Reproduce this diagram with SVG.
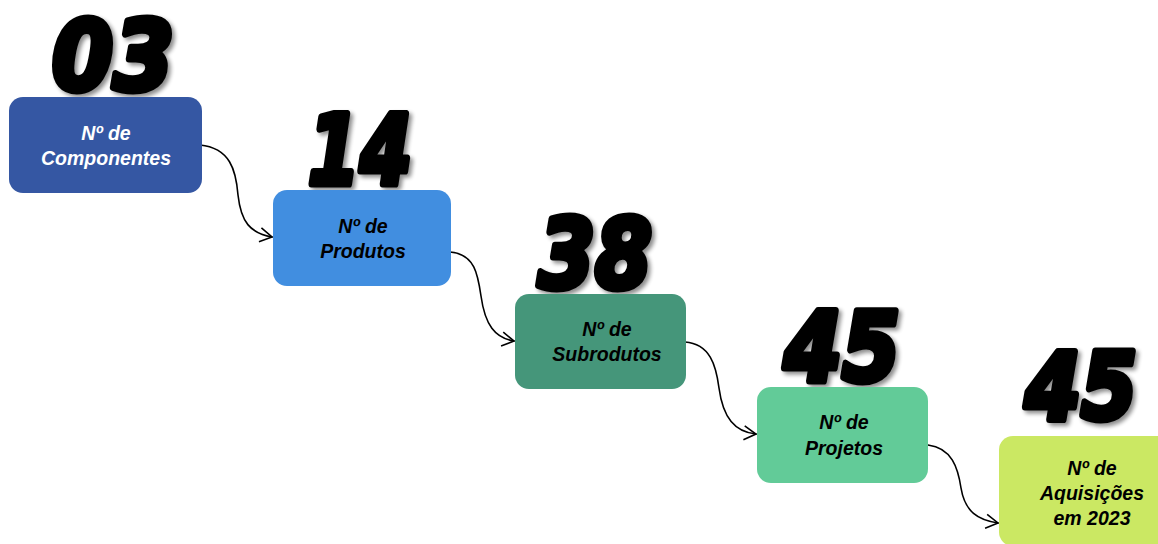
<svg xmlns="http://www.w3.org/2000/svg" width="1158" height="544" viewBox="0 0 1158 544">
<defs>
<style>
.lbl{font-family:"Liberation Sans",Arial,sans-serif;font-weight:bold;font-style:italic;font-size:19.5px;text-anchor:middle}
.num{font-family:"DejaVu Sans",sans-serif;font-weight:bold;font-style:italic;font-size:96px;fill:#000;stroke:#000;stroke-width:7;stroke-linejoin:round;text-anchor:middle;filter:url(#sh)}
.con{fill:none;stroke:#000;stroke-width:1.6;stroke-linecap:round}
</style>
<filter id="sh" x="-20%" y="-20%" width="140%" height="140%">
<feGaussianBlur in="SourceAlpha" stdDeviation="2"/>
<feOffset dx="3" dy="3" result="b"/>
<feComponentTransfer><feFuncA type="linear" slope="0.45"/></feComponentTransfer>
<feMerge><feMergeNode/><feMergeNode in="SourceGraphic"/></feMerge>
</filter>
<marker id="arr" markerWidth="16" markerHeight="16" refX="14" refY="8" orient="auto" markerUnits="userSpaceOnUse">
<path d="M2,1 L14,8 L2,15" fill="none" stroke="#000" stroke-width="1.6"/>
</marker>
</defs>
<rect width="1158" height="544" fill="#fff"/>
<g id="connectors">
<path class="con" marker-end="url(#arr)" d="M200,145 C230,148 236,170 238,195 C241,222 250,233 272,237"/>
<path class="con" marker-end="url(#arr)" d="M450,252 C475,254 478,275 481,296 C485,325 495,338 514,341"/>
<path class="con" marker-end="url(#arr)" d="M685,342 C710,344 716,365 719,388 C723,418 735,432 756,434"/>
<path class="con" marker-end="url(#arr)" d="M928,445 C952,448 958,468 961,488 C965,512 978,520 998,523"/>
</g>
<g id="n1">
<text class="num" x="113" y="90" textLength="122" lengthAdjust="spacingAndGlyphs">03</text>
<rect x="9" y="97" width="193" height="96" rx="14" fill="#3557a3"/>
<text class="lbl" x="106" y="140" fill="#fff">Nº de</text>
<text class="lbl" x="106" y="165" fill="#fff">Componentes</text>
</g>
<g id="n2">
<text class="num" x="360" y="184" textLength="104" lengthAdjust="spacingAndGlyphs">14</text>
<rect x="273" y="190" width="178" height="96" rx="14" fill="#418ee0"/>
<text class="lbl" x="363" y="233" fill="#000">Nº de</text>
<text class="lbl" x="363" y="258" fill="#000">Produtos</text>
</g>
<g id="n3">
<text class="num" x="595" y="288" textLength="114" lengthAdjust="spacingAndGlyphs">38</text>
<rect x="515" y="294" width="171" height="95" rx="14" fill="#45967a"/>
<text class="lbl" x="607" y="336" fill="#000">Nº de</text>
<text class="lbl" x="607" y="361" fill="#000">Subrodutos</text>
</g>
<g id="n4">
<text class="num" x="842" y="381" textLength="116" lengthAdjust="spacingAndGlyphs">45</text>
<rect x="757" y="387" width="171" height="96" rx="14" fill="#62cb98"/>
<text class="lbl" x="844" y="429" fill="#000">Nº de</text>
<text class="lbl" x="844" y="455" fill="#000">Projetos</text>
</g>
<g id="n5">
<text class="num" x="1081" y="419" style="font-size:93px" textLength="112" lengthAdjust="spacingAndGlyphs">45</text>
<rect x="999" y="436" width="175" height="110" rx="14" fill="#cbe863"/>
<text class="lbl" x="1092" y="475" fill="#000">Nº de</text>
<text class="lbl" x="1092" y="500" fill="#000">Aquisições</text>
<text class="lbl" x="1092" y="525" fill="#000">em 2023</text>
</g>
</svg>
